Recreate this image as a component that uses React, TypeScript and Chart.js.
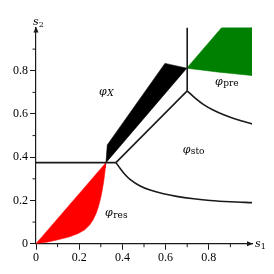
import { useEffect, useRef } from 'react';
import { Chart, registerables } from 'chart.js';
Chart.register(...registerables);

type P = [number, number];

const xTickValues = [0, 0.2, 0.4, 0.6, 0.8];
const xTickLabels = ['0', '0.2', '0.4', '0.6', '0.8'];
const yTickValues = [0, 0.2, 0.4, 0.6, 0.8];
const yTickLabels = ['0', '0.2', '0.4', '0.6', '0.8'];
const minorTickValues = [0.1, 0.3, 0.5, 0.7, 0.9];

const redRegion: P[] = [
  [0, 0], [0.324, 0.375], [0.321, 0.35], [0.317, 0.315], [0.312, 0.28], [0.306, 0.245],
  [0.299, 0.21], [0.29, 0.175], [0.279, 0.142], [0.265, 0.112], [0.248, 0.086],
  [0.225, 0.064], [0.195, 0.047], [0.155, 0.032], [0.105, 0.019], [0.055, 0.008], [0, 0],
];
const blackRegion: P[] = [[0.324, 0.375], [0.33, 0.457], [0.597, 0.834], [0.698, 0.812], [0.324, 0.375]];
const greenRegion: P[] = [[0.698, 0.812], [0.86, 1.0], [1.0, 1.0], [1.0, 0.778], [0.85, 0.793], [0.698, 0.812]];
const horizontalLine: P[] = [[0, 0.375], [0.37, 0.375]];
const diagonalLine: P[] = [[0.37, 0.375], [0.7, 0.707]];
const verticalLine: P[] = [[0.7, 0.707], [0.7, 1.0]];
const upperCurve: P[] = [
  [0.7, 0.707], [0.737, 0.673], [0.776, 0.643], [0.82, 0.618], [0.869, 0.596], [0.93, 0.574], [1.0, 0.554],
];
const lowerCurve: P[] = [
  [0.37, 0.375], [0.389, 0.349], [0.412, 0.32], [0.435, 0.298], [0.48, 0.268], [0.528, 0.248],
  [0.59, 0.231], [0.651, 0.219], [0.73, 0.208], [0.806, 0.2], [0.9, 0.194], [1.0, 0.19],
];

const regionLabels = [
  { sub: 'X', italicSub: true, at: [0.292, 0.69] as P },
  { sub: 'pre', italicSub: false, at: [0.829, 0.735] as P },
  { sub: 'sto', italicSub: false, at: [0.679, 0.42] as P },
  { sub: 'res', italicSub: false, at: [0.32, 0.128] as P },
];

const pts = (a: P[]) => a.map(([x, y]) => ({ x, y }));
const INK = '#1a1a1a';

const fillSet = (a: P[], color: string) => ({
  data: pts(a), fill: 'shape', backgroundColor: color, borderColor: color,
  borderWidth: 0.6, pointRadius: 0, tension: 0,
});
const lineSet = (a: P[], tension = 0) => ({
  data: pts(a), fill: false, borderColor: INK, borderWidth: 1.6, pointRadius: 0, tension,
});

const overlay = {
  id: 'overlay',
  afterDraw(chart: any) {
    const { ctx, chartArea: ca, scales } = chart;
    const x = scales.x, y = scales.y;
    ctx.save();
    ctx.strokeStyle = INK;
    ctx.fillStyle = INK;
    ctx.lineWidth = 1;
    minorTickValues.forEach((v) => {
      const px = x.getPixelForValue(v);
      ctx.beginPath(); ctx.moveTo(px, ca.bottom); ctx.lineTo(px, ca.bottom + 3.5); ctx.stroke();
      const py = y.getPixelForValue(v);
      ctx.beginPath(); ctx.moveTo(ca.left, py); ctx.lineTo(ca.left - 3.5, py); ctx.stroke();
    });
    // arrows
    ctx.beginPath();
    ctx.moveTo(ca.right + 1, ca.bottom);
    ctx.lineTo(ca.right - 5, ca.bottom - 2.5);
    ctx.lineTo(ca.right - 5, ca.bottom + 2.5);
    ctx.closePath(); ctx.fill();
    ctx.beginPath();
    ctx.moveTo(ca.left, ca.top - 1);
    ctx.lineTo(ca.left - 2.5, ca.top + 5);
    ctx.lineTo(ca.left + 2.5, ca.top + 5);
    ctx.closePath(); ctx.fill();
    // axis names
    ctx.fillStyle = '#000';
    ctx.textBaseline = 'alphabetic';
    ctx.textAlign = 'left';
    ctx.font = 'italic 11px "DejaVu Serif"';
    ctx.fillText('s', ca.right + 3, ca.bottom + 3);
    const sw = ctx.measureText('s').width;
    ctx.font = '8px "DejaVu Serif"';
    ctx.fillText('1', ca.right + 3 + sw, ca.bottom + 5.5);
    ctx.font = 'italic 11px "DejaVu Serif"';
    ctx.fillText('s', ca.left - 3, ca.top - 3);
    ctx.font = '8px "DejaVu Serif"';
    ctx.fillText('2', ca.left - 3 + sw, ca.top - 1);
    // region labels
    regionLabels.forEach((l) => {
      const px = x.getPixelForValue(l.at[0]);
      const py = y.getPixelForValue(l.at[1]);
      ctx.font = 'italic 11px "DejaVu Serif"';
      ctx.fillText('φ', px, py);
      const w = ctx.measureText('φ').width;
      ctx.font = l.italicSub ? 'italic 9px "DejaVu Serif"' : '9px "DejaVu Serif"';
      ctx.fillText(l.sub, px + w + 0.5, py + 1.5);
    });
    ctx.restore();
  },
};

export default function App() {
  const ref = useRef<HTMLCanvasElement>(null);
  useEffect(() => {
    if (!ref.current) return;
    const tickFont = { family: '"Liberation Serif", serif', size: 12 };
    const chart = new Chart(ref.current, {
      type: 'line',
      data: {
        datasets: [
          lineSet(horizontalLine),
          lineSet(diagonalLine),
          lineSet(verticalLine),
          lineSet(upperCurve, 0.3),
          lineSet(lowerCurve, 0.3),
          fillSet(blackRegion, '#000000'),
          fillSet(greenRegion, '#008000'),
          fillSet(redRegion, '#ff0000'),
        ] as any,
      },
      options: {
        animation: false,
        responsive: false,
        devicePixelRatio: 1,
        layout: { padding: { top: 27.5, right: 22, left: 0, bottom: 0 } },
        plugins: { legend: { display: false }, tooltip: { enabled: false } },
        scales: {
          x: {
            type: 'linear', min: 0, max: 1, position: 'bottom',
            border: { display: true, color: INK, width: 1.2 },
            grid: { drawOnChartArea: false, drawTicks: true, tickLength: 6, color: INK, lineWidth: 1 },
            ticks: {
              autoSkip: false, maxRotation: 0, padding: 1, color: '#000', font: tickFont,
              callback: (_v: any, i: number) => xTickLabels[i],
            },
            afterBuildTicks: (s: any) => { s.ticks = xTickValues.map((value) => ({ value })); },
            afterFit: (s: any) => { s.height = 30.3; },
          },
          y: {
            type: 'linear', min: 0, max: 1, position: 'left',
            border: { display: true, color: INK, width: 1.2 },
            grid: { drawOnChartArea: false, drawTicks: true, tickLength: 6, color: INK, lineWidth: 1 },
            ticks: {
              autoSkip: false, padding: 2, color: '#000', font: tickFont,
              callback: (_v: any, i: number) => yTickLabels[i],
            },
            afterBuildTicks: (s: any) => { s.ticks = yTickValues.map((value) => ({ value })); },
            afterFit: (s: any) => { s.width = 36; },
          },
        },
      } as any,
      plugins: [overlay],
    });
    return () => chart.destroy();
  }, []);
  return (
    <div style={{ position: 'fixed', left: 0, top: 0, width: 274, height: 274, background: '#fff' }}>
      <canvas ref={ref} width={274} height={274} style={{ display: 'block' }} />
    </div>
  );
}
